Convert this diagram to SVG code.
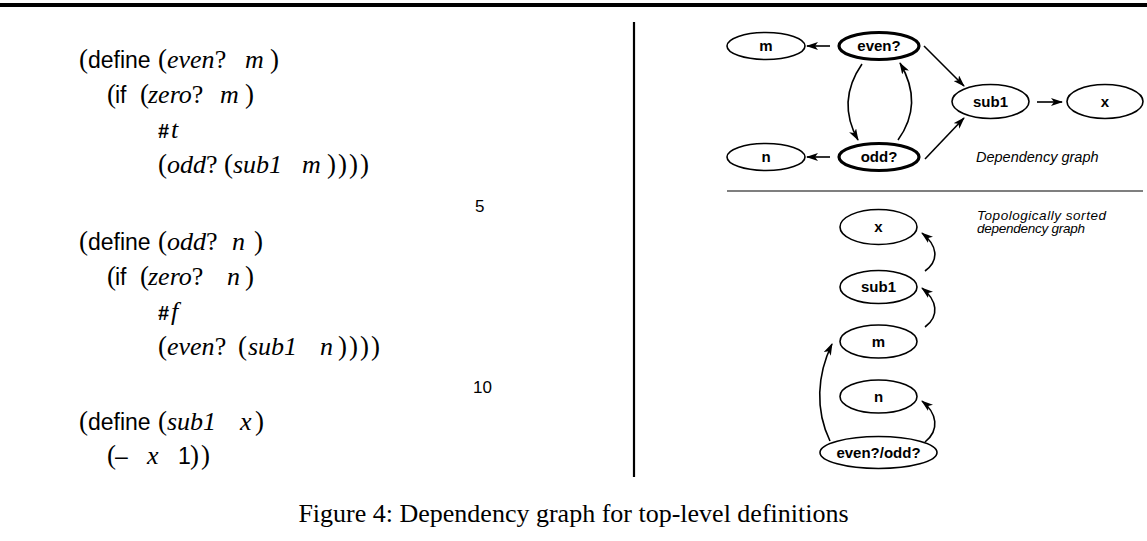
<svg xmlns="http://www.w3.org/2000/svg" width="1147" height="541" viewBox="0 0 1147 541">
<style>
.sans{font-family:"Liberation Sans",Arial,sans-serif;font-size:23px;fill:#000}
.it{font-family:"Liberation Serif","Times New Roman",serif;font-style:italic;font-size:26px}
.q{font-style:normal}
.par{font-family:"Liberation Serif","Times New Roman",serif;font-style:normal;font-size:27px}
.hash{font-family:"Liberation Sans",Arial,sans-serif;font-weight:bold;font-size:20px;font-style:normal}
.num{font-family:"Liberation Sans",Arial,sans-serif;font-size:17px}
.lbl{font-family:"Liberation Sans",Arial,sans-serif;font-weight:bold;font-size:15px;text-anchor:middle}
.note{font-family:"Liberation Sans",Arial,sans-serif;font-style:italic;font-size:14.5px}
.note2{font-family:"Liberation Sans",Arial,sans-serif;font-style:italic;font-size:13.5px}
.cap{font-family:"Liberation Serif","Times New Roman",serif;font-size:26px;text-anchor:middle}
.node{fill:#fff;stroke:#000;stroke-width:1.6}
.bold{stroke-width:3.2}
.edge{fill:none;stroke:#000;stroke-width:1.6;marker-end:url(#ah)}
</style>
<defs>
<marker id="ah" markerUnits="userSpaceOnUse" markerWidth="12" markerHeight="8" refX="11" refY="4" orient="auto" viewBox="0 0 12 8">
<path d="M0,0 L12,4 L0,8 L3,4 z" fill="#000"/>
</marker>
</defs>
<rect x="0" y="3" width="1147" height="4" fill="#000"/>
<line x1="634" y1="22" x2="634" y2="477" stroke="#000" stroke-width="2.2"/>
<line x1="727" y1="191" x2="1143" y2="191" stroke="#000" stroke-width="1.2"/>

<g id="code" class="sans">
<text y="68"><tspan class="par" x="79">(</tspan><tspan x="88">define</tspan><tspan class="par" x="158">(</tspan><tspan class="it" x="167">even<tspan class="q">?</tspan></tspan><tspan class="it" x="245">m</tspan><tspan class="par" x="270">)</tspan></text>
<text y="103"><tspan class="par" x="107">(</tspan><tspan x="115">if</tspan><tspan class="par" x="140">(</tspan><tspan class="it" x="148">zero<tspan class="q">?</tspan></tspan><tspan class="it" x="220">m</tspan><tspan class="par" x="245">)</tspan></text>
<text y="138"><tspan class="hash" x="158">#</tspan><tspan class="it" x="171">t</tspan></text>
<text y="173"><tspan class="par" x="158">(</tspan><tspan class="it" x="167">odd<tspan class="q">?</tspan></tspan><tspan class="par" x="224">(</tspan><tspan class="it" x="233">sub1</tspan><tspan class="it" x="302">m</tspan><tspan class="par" x="327" letter-spacing="2">))))</tspan></text>
<text class="num" x="475" y="212">5</text>
<text y="250"><tspan class="par" x="79">(</tspan><tspan x="88">define</tspan><tspan class="par" x="158">(</tspan><tspan class="it" x="167">odd<tspan class="q">?</tspan></tspan><tspan class="it" x="232">n</tspan><tspan class="par" x="254">)</tspan></text>
<text y="285"><tspan class="par" x="107">(</tspan><tspan x="115">if</tspan><tspan class="par" x="140">(</tspan><tspan class="it" x="148">zero<tspan class="q">?</tspan></tspan><tspan class="it" x="227">n</tspan><tspan class="par" x="245">)</tspan></text>
<text y="320"><tspan class="hash" x="158">#</tspan><tspan class="it" x="171">f</tspan></text>
<text y="355"><tspan class="par" x="158">(</tspan><tspan class="it" x="167">even<tspan class="q">?</tspan></tspan><tspan class="par" x="238">(</tspan><tspan class="it" x="248">sub1</tspan><tspan class="it" x="320">n</tspan><tspan class="par" x="338" letter-spacing="2">))))</tspan></text>
<text class="num" x="473" y="393">10</text>
<text y="430"><tspan class="par" x="79">(</tspan><tspan x="88">define</tspan><tspan class="par" x="158">(</tspan><tspan class="it" x="167">sub1</tspan><tspan class="it" x="240">x</tspan><tspan class="par" x="255">)</tspan></text>
<text y="464"><tspan class="par" x="107">(</tspan><tspan x="115">–</tspan><tspan class="it" x="147">x</tspan><tspan x="178">1</tspan><tspan class="par" x="190" letter-spacing="2">))</tspan></text>
</g>

<g id="connectors">
<path class="edge" d="M830,46 L807,46"/>
<path class="edge" d="M830,157 L807,157"/>
<path class="edge" d="M1037,102 L1062,102"/>
<path class="edge" d="M924,46 L964,86"/>
<path class="edge" d="M925,159 L964,118"/>
<path class="edge" d="M862,64 C844,90 844,115 858,140"/>
<path class="edge" d="M898,140 C916,115 916,90 900,63"/>
<path class="edge" d="M925,271 C940,260 937,245 922,233"/>
<path class="edge" d="M925,327 C940,316 937,300 922,288"/>
<path class="edge" d="M925,442 C940,430 937,413 922,401"/>
<path class="edge" d="M830,441 C815,410 817,375 832,344"/>
</g>

<g id="n-m"><ellipse class="node" cx="766" cy="46" rx="39" ry="13.5"/><text class="lbl" x="766" y="51">m</text></g>
<g id="n-even"><ellipse class="node bold" cx="879" cy="46" rx="40" ry="13.5"/><text class="lbl" x="879" y="51">even?</text></g>
<g id="n-n"><ellipse class="node" cx="766" cy="157" rx="39" ry="13.5"/><text class="lbl" x="766" y="162">n</text></g>
<g id="n-odd"><ellipse class="node bold" cx="879" cy="157" rx="40" ry="13.5"/><text class="lbl" x="879" y="162">odd?</text></g>
<g id="n-sub1"><ellipse class="node" cx="990.5" cy="101.5" rx="38.5" ry="17"/><text class="lbl" x="990.5" y="107">sub1</text></g>
<g id="n-x"><ellipse class="node" cx="1105" cy="101.5" rx="38" ry="17"/><text class="lbl" x="1105" y="107">x</text></g>
<g id="label-dep"><text class="note" x="976" y="162">Dependency graph</text></g>

<g id="t-x"><ellipse class="node" cx="878.5" cy="227" rx="38.5" ry="17.5"/><text class="lbl" x="878.5" y="232">x</text></g>
<g id="t-sub1"><ellipse class="node" cx="878.5" cy="287" rx="38.5" ry="16.5"/><text class="lbl" x="878.5" y="292">sub1</text></g>
<g id="t-m"><ellipse class="node" cx="878.5" cy="341.5" rx="38.5" ry="16.5"/><text class="lbl" x="878.5" y="346.5">m</text></g>
<g id="t-n"><ellipse class="node" cx="878.5" cy="396.5" rx="38.5" ry="16.5"/><text class="lbl" x="878.5" y="401.5">n</text></g>
<g id="t-evenodd"><ellipse class="node" cx="878.5" cy="452.5" rx="58.5" ry="16"/><text class="lbl" x="878.5" y="457.5">even?/odd?</text></g>
<g id="label-topo"><text class="note2" x="977" y="219.5" textLength="129">Topologically sorted</text><text class="note2" x="977" y="233" textLength="108">dependency graph</text></g>

<text class="cap" x="573.5" y="522">Figure 4: Dependency graph for top-level definitions</text>
</svg>
